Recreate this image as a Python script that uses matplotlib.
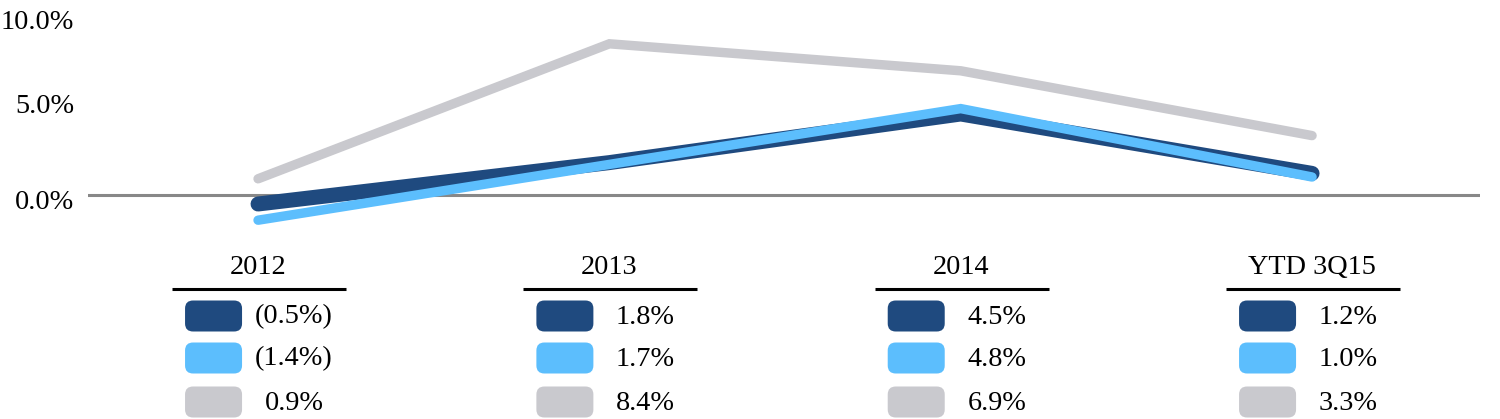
import matplotlib
matplotlib.use("Agg")
import matplotlib.pyplot as plt
from matplotlib.patches import FancyBboxPatch
from matplotlib.transforms import ScaledTranslation

# ---- data ----
periods = ["2012", "2013", "2014", "YTD 3Q15"]
series_navy = [-0.5, 1.8, 4.5, 1.2]
series_light = [-1.4, 1.7, 4.8, 1.0]
series_gray = [0.9, 8.4, 6.9, 3.3]
labels_navy = ["(0.5%)", "1.8%", "4.5%", "1.2%"]
labels_light = ["(1.4%)", "1.7%", "4.8%", "1.0%"]
labels_gray = ["0.9%", "8.4%", "6.9%", "3.3%"]
yticks = [0, 5, 10]

NAVY = "#1F4A7F"
LIGHT = "#5CBEFD"
GRAY = "#C9C9CE"
AXIS = "#888888"
FONT = "Liberation Serif"
FS = 20.3

W, H = 1500, 419
fig = plt.figure(figsize=(W / 100, H / 100), dpi=100)

# main line chart axes (pixel layout: x 88..1480, y 15..231 from top)
ax = fig.add_axes([88 / W, (H - 231) / H, (1480 - 88) / W, 216 / H])
n = len(periods)
xs = list(range(n))
ax.set_xlim(-0.484, 3.478)
ax.set_ylim(-2, 10)

ax.axhline(0, color=AXIS, lw=2.2, zorder=1)
ax.plot(xs, series_gray, color=GRAY, lw=6.8, solid_capstyle="round",
        solid_joinstyle="miter", zorder=2)
ax.plot(xs, series_navy, color=NAVY, lw=10.8, solid_capstyle="round",
        solid_joinstyle="miter", zorder=3)
ax.plot(xs, series_light, color=LIGHT, lw=6.8, solid_capstyle="round",
        solid_joinstyle="miter", zorder=4)

for s in ax.spines.values():
    s.set_visible(False)
ax.set_xticks([])
ax.set_yticks(yticks)
ax.set_yticklabels([f"{v:.1f}%" for v in yticks], fontfamily=FONT, fontsize=FS)
ax.tick_params(axis="y", length=0, pad=10)
label_shift_px = [-4, 2, -4]
for lab, dy in zip(ax.get_yticklabels(), label_shift_px):
    lab.set_transform(lab.get_transform() + ScaledTranslation(0, dy / 100, fig.dpi_scale_trans))

# overlay axes in pixel coordinates for the table below
tab = fig.add_axes([0, 0, 1, 1], zorder=-1)
tab.set_xlim(0, W)
tab.set_ylim(H, 0)
tab.axis("off")

row_y = [316, 358, 402]
colors = [NAVY, LIGHT, GRAY]
row_labels = [labels_navy, labels_light, labels_gray]
for i, name in enumerate(periods):
    cx = ax.transData.transform((i, 0))[0]
    tab.text(cx, 267, name, ha="center", va="center", fontfamily=FONT,
             fontsize=FS, color="black")
    tab.plot([cx - 86, cx + 88], [289, 289], color="black", lw=2.2,
             solid_capstyle="butt")
    for r in range(3):
        y = row_y[r]
        box = FancyBboxPatch((cx - 73, y - 15.5), 57, 31,
                             boxstyle="round,pad=0,rounding_size=8",
                             fc=colors[r], ec="none")
        tab.add_patch(box)
        tab.text(cx + 36, y + 1, row_labels[r][i], ha="center", va="center",
                 fontfamily=FONT, fontsize=FS, color="black")

fig.savefig("out.png", dpi=100)
